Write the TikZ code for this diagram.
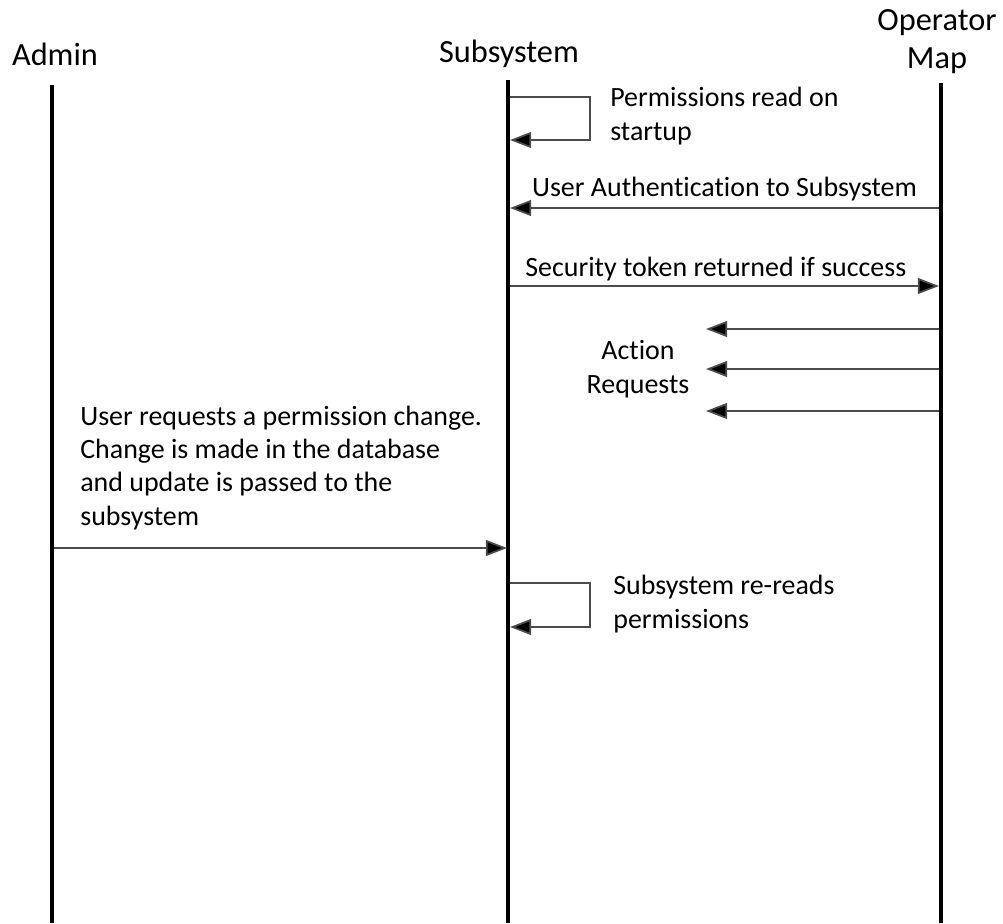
\documentclass[tikz,border=0pt]{standalone}
\usepackage{fontspec}
\setmainfont{Carlito}[Ligatures=NoCommon]
\usetikzlibrary{arrows.meta}

\tikzset{
  lifeline/.style={line width=2.3pt},
  msg/.style={draw=black!70,line width=1pt,-{Triangle[length=12pt,width=9pt,fill=black]}},
  head/.style={font=\fontsize{18.4}{21.6}\selectfont,align=center,inner sep=0pt},
  note/.style={font=\fontsize{15.9}{18.8}\selectfont,align=left,inner sep=0pt}
}

\begin{document}
\begin{tikzpicture}[x=0.02cm,y=-0.02cm]
  \useasboundingbox (0,0) rectangle (1003,923);

  % participants (multi-line nodes sit on their last baseline)
  \node[head,anchor=base] (admin) at (55,65) {Admin};
  \node[head,anchor=base] (subsys) at (509,62) {Subsystem};
  \node[head,anchor=base] (opmap) at (937,68) {Operator\\Map};

  % lifelines
  \coordinate (admTop) at (52,85);   \coordinate (admBot) at (52,923);
  \coordinate (subTop) at (508,80);  \coordinate (subBot) at (508,923);
  \coordinate (opTop) at (941,83);   \coordinate (opBot) at (941,923);
  \draw[lifeline] (admTop) -- (admBot);
  \draw[lifeline] (subTop) -- (subBot);
  \draw[lifeline] (opTop) -- (opBot);

  % startup self call
  \coordinate (ld1) at (510,97);  \coordinate (ld2) at (590,97);
  \coordinate (ld3) at (590,140); \coordinate (ld4) at (510,140);
  \draw[msg] (ld1) -- (ld2) -- (ld3) -- (ld4);
  \node[note,anchor=base west] (load) at (610,140) {Permissions read on\\startup};

  % login and token
  \coordinate (authA) at (939,208); \coordinate (authB) at (510,208);
  \draw[msg] (authA) -- (authB) node[note,midway,anchor=base,yshift=6.3pt] (auth) {User Authentication to Subsystem};
  \coordinate (tokA) at (510,286);  \coordinate (tokB) at (939,286);
  \draw[msg] (tokA) -- (tokB);
  \node[note,anchor=base west] (tok) at (525,276) {Security token returned if success};

  % requests coming in
  \foreach \y [count=\i] in {329,369,411} {
    \coordinate (reqA\i) at (939,\y);
    \coordinate (reqB\i) at (706,\y);
    \draw[msg] (reqA\i) -- (reqB\i);
  }
  \node[note,align=center,anchor=base] (req) at (638,393) {Action\\Requests};

  % permission change from admin
  \coordinate (chgA) at (54,548); \coordinate (chgB) at (507,548);
  \draw[msg] (chgA) -- (chgB);
  \node[note,anchor=base west] (chg) at (80,525)
    {User requests a permission change.\\Change is made in the database\\and update is passed to the\\subsystem};

  % reload self call
  \coordinate (rd1) at (510,583); \coordinate (rd2) at (590,583);
  \coordinate (rd3) at (590,627); \coordinate (rd4) at (510,627);
  \draw[msg] (rd1) -- (rd2) -- (rd3) -- (rd4);
  \node[note,anchor=base west] (reload) at (613,628) {Subsystem re-reads\\permissions};
\end{tikzpicture}
\end{document}
